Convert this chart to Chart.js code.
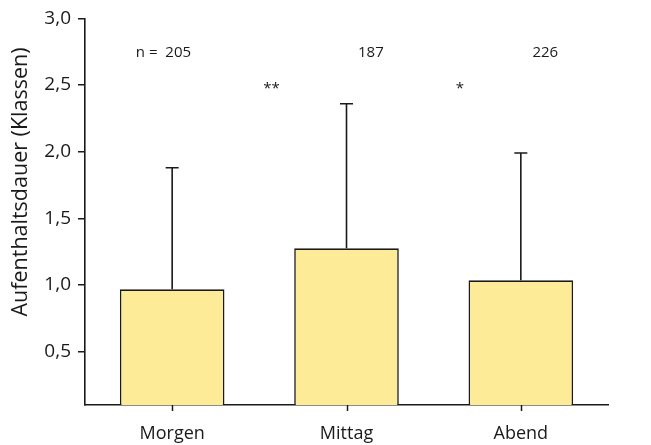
<!DOCTYPE html>
<html>
<head>
<meta charset="utf-8">
<script src="https://cdn.jsdelivr.net/npm/chart.js@4"></script>
<style>
  html, body { margin: 0; padding: 0; background: #fff; }
  #wrap { width: 651px; height: 445px; }
</style>
</head>
<body>
<div id="wrap"><canvas id="c" width="651" height="445"></canvas></div>
<script>
// ---- Data ----
const categories = ["Morgen", "Mittag", "Abend"];
const means = [0.968, 1.275, 1.035];
const upperErr = [1.88, 2.36, 1.99];
const yTicks = [0.5, 1.0, 1.5, 2.0, 2.5, 3.0];
const nLabels = ["n =  205", "187", "226"];
const nLabelPos = [-0.05, 1.14, 2.14];
const sigLabels = ["**", "*"];
const sigLabelPos = [0.57, 1.65];
const yTitle = "Aufenthaltsdauer (Klassen)";

const FONT = "'Open Sans', 'DejaVu Sans', sans-serif";
const INK = "#1a1a1a";

const extras = {
  id: 'extras',
  afterDatasetsDraw(chart) {
    const ctx = chart.ctx;
    const xs = chart.scales.x, ys = chart.scales.y;
    ctx.save();
    // x-axis category ticks
    ctx.strokeStyle = INK;
    ctx.lineWidth = 1.5;
    categories.forEach((c, i) => {
      const x = Math.round(xs.getPixelForValue(i)) + 0.5;
      ctx.beginPath();
      ctx.moveTo(x, xs.top);
      ctx.lineTo(x, xs.top + 6);
      ctx.stroke();
    });
    // error bars (upper only)
    ctx.lineWidth = 1.6;
    means.forEach((m, i) => {
      const x = xs.getPixelForValue(i);
      const y0 = ys.getPixelForValue(m);
      const y1 = ys.getPixelForValue(upperErr[i]);
      ctx.beginPath();
      ctx.moveTo(x, y0);
      ctx.lineTo(x, y1);
      ctx.moveTo(x - 6.5, y1);
      ctx.lineTo(x + 6.5, y1);
      ctx.stroke();
    });
    // n labels
    ctx.fillStyle = INK;
    ctx.font = "15px " + FONT;
    ctx.textAlign = "center";
    ctx.textBaseline = "middle";
    nLabels.forEach((t, i) => {
      ctx.fillText(t, xs.getPixelForValue(nLabelPos[i]), ys.getPixelForValue(2.74));
    });
    // significance
    ctx.font = "15px " + FONT;
    sigLabels.forEach((t, i) => {
      ctx.fillText(t, xs.getPixelForValue(sigLabelPos[i]), ys.getPixelForValue(2.47));
    });
    // y title
    ctx.font = "21.5px " + FONT;
    ctx.translate(21, 182);
    ctx.rotate(-Math.PI / 2);
    ctx.fillText(yTitle, 0, 0);
    ctx.restore();
  }
};

new Chart(document.getElementById('c'), {
  type: 'bar',
  data: {
    labels: categories,
    datasets: [{
      data: means,
      backgroundColor: "#FEEB97",
      borderColor: INK,
      borderWidth: 1.6,
      borderSkipped: 'bottom',
      barPercentage: 0.6,
      categoryPercentage: 1.0
    }]
  },
  options: {
    responsive: false,
    animation: false,
    events: [],
    layout: { padding: { top: 17, right: 43, left: 0, bottom: 0 } },
    plugins: { legend: { display: false }, tooltip: { enabled: false } },
    scales: {
      x: {
        offset: true,
        grid: { display: false },
        border: { display: true, color: INK, width: 1.6 },
        ticks: { color: INK, font: { family: FONT, size: 18 }, padding: 10 },
        afterFit(s) { s.height = 40; }
      },
      y: {
        min: 0.1,
        max: 3.0,
        grid: { display: true, drawOnChartArea: false, tickLength: 7, color: INK, lineWidth: 1.5 },
        border: { display: true, color: INK, width: 1.6 },
        ticks: {
          color: INK, font: { family: FONT, size: 19 }, padding: 7,
          callback: (v) => Number(v).toFixed(1).replace('.', ',')
        },
        afterBuildTicks(s) { s.ticks = yTicks.map(v => ({ value: v })); },
        afterFit(s) { s.width = 85; }
      }
    }
  },
  plugins: [extras]
});
</script>
</body>
</html>
